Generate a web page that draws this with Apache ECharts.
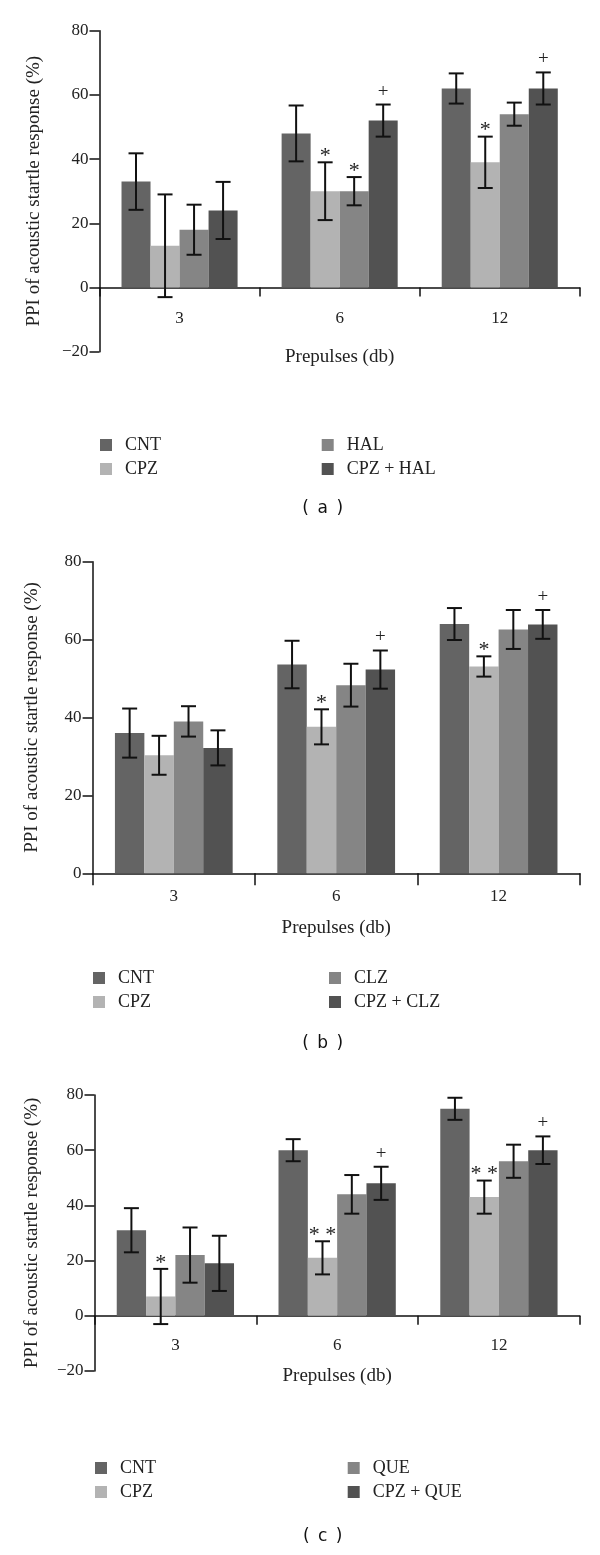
<!DOCTYPE html>
<html>
<head>
<meta charset="utf-8">
<script src="https://cdn.jsdelivr.net/npm/echarts@6/dist/echarts.min.js"></script>
<style>
  html, body { margin: 0; padding: 0; background: #fff; }
  .panel { position: absolute; left: 0; width: 600px; }
</style>
</head>
<body>
<div id="pa" class="panel" style="top:0px;height:530px"></div>
<div id="pb" class="panel" style="top:530px;height:535px"></div>
<div id="pc" class="panel" style="top:1065px;height:490px"></div>
<script>
// ---------- data ----------
const categories = ['3', '6', '12'];

// panel (a)
const a_names = ['CNT', 'CPZ', 'HAL', 'CPZ + HAL'];
const a_CNT = [33, 48, 62];       const a_CNT_err = [8.8, 8.7, 4.7];
const a_CPZ = [13, 30, 39];       const a_CPZ_err = [16, 9, 8];
const a_HAL = [18, 30, 54];       const a_HAL_err = [7.8, 4.4, 3.6];
const a_MIX = [24, 52, 62];       const a_MIX_err = [8.9, 5, 5];
const a_marks = [['', '', ''], ['', '*', '*'], ['', '*', ''], ['', '+', '+']];

// panel (b)
const b_names = ['CNT', 'CPZ', 'CLZ', 'CPZ + CLZ'];
const b_CNT = [36, 53.6, 64];     const b_CNT_err = [6.3, 6.1, 4.1];
const b_CPZ = [30.3, 37.6, 53.1]; const b_CPZ_err = [5, 4.5, 2.6];
const b_CLZ = [39, 48.3, 62.6];   const b_CLZ_err = [3.9, 5.5, 5];
const b_MIX = [32.2, 52.3, 63.9]; const b_MIX_err = [4.5, 4.9, 3.7];
const b_marks = [['', '', ''], ['', '*', '*'], ['', '', ''], ['', '+', '+']];

// panel (c)
const c_names = ['CNT', 'CPZ', 'QUE', 'CPZ + QUE'];
const c_CNT = [31, 60, 75];       const c_CNT_err = [8, 4, 4];
const c_CPZ = [7, 21, 43];        const c_CPZ_err = [10, 6, 6];
const c_QUE = [22, 44, 56];       const c_QUE_err = [10, 7, 6];
const c_MIX = [19, 48, 60];       const c_MIX_err = [10, 6, 5];
const c_marks = [['', '', ''], ['*', '**', '**'], ['', '', ''], ['', '+', '+']];

// ---------- styling ----------
const COLORS = ['#646464', '#b3b3b3', '#858585', '#525252'];
const SERIF = '"Liberation Serif", "DejaVu Serif", serif';
const GAP = 0.275;

function build(cfg) {
  const series = [];
  cfg.values.forEach((vals, i) => {
    series.push({
      type: 'bar', name: cfg.names[i], data: vals,
      barGap: '0%', barCategoryGap: (GAP * 100) + '%',
      itemStyle: { color: COLORS[i] },
      emphasis: { disabled: true }, z: 2
    });
  });
  cfg.values.forEach((vals, i) => {
    const errs = cfg.errs[i];
    const marks = cfg.marks[i];
    series.push({
      type: 'custom', name: cfg.names[i] + ' err', clip: false, z: 5,
      silent: true,
      data: vals.map((v, k) => [k, v, errs[k]]),
      renderItem: function (params, api) {
        const cat = api.value(0), v = api.value(1), e = api.value(2);
        const band = api.size([1, 0])[0];
        const bw = band * (1 - GAP) / 4;
        const off = (i - 1.5) * bw;
        const t = api.coord([cat, v + e]);
        const b = api.coord([cat, v - e]);
        const x = t[0] + off;
        const cap = 7.5;
        const st = { stroke: '#111', lineWidth: 2 };
        const children = [
          { type: 'line', shape: { x1: x, y1: t[1], x2: x, y2: b[1] }, style: st },
          { type: 'line', shape: { x1: x - cap, y1: t[1], x2: x + cap, y2: t[1] }, style: st },
          { type: 'line', shape: { x1: x - cap, y1: b[1], x2: x + cap, y2: b[1] }, style: st }
        ];
        const m = marks[params.dataIndex];
        if (m) {
          const isStar = m.indexOf('*') >= 0;
          children.push({
            type: 'text',
            style: {
              text: isStar ? m.split('').join(' ') : m,
              x: x, y: t[1] - (isStar ? 6 : 13),
              align: 'center', verticalAlign: 'middle',
              font: (isStar ? '22px ' : '19px ') + SERIF, fill: '#222'
            }
          });
        }
        return { type: 'group', children: children };
      }
    });
  });

  const legendStyle = {
    orient: 'vertical', icon: 'rect', itemWidth: 12, itemHeight: 12, itemGap: 6,
    padding: 0, selectedMode: false,
    textStyle: { fontFamily: SERIF, fontSize: 18, color: '#222', padding: [0, 0, 0, 8] }
  };

  return {
    animation: false,
    grid: { left: cfg.left, right: 20.2, top: cfg.top, height: cfg.height },
    xAxis: {
      type: 'category', data: categories,
      axisLine: { onZero: true, lineStyle: { color: '#111', width: 1.5 } },
      axisTick: { show: true, length: cfg.tickLen, lineStyle: { color: '#111', width: 1.5 } },
      axisLabel: { margin: cfg.labelMargin, fontFamily: SERIF, fontSize: 17, color: '#222' },
      name: 'Prepulses (db)', nameLocation: 'middle', nameGap: cfg.nameGap,
      nameTextStyle: { fontFamily: SERIF, fontSize: 19, color: '#222' },
      splitLine: { show: false }
    },
    yAxis: {
      type: 'value', min: cfg.ymin, max: 80, interval: 20,
      axisLine: { show: true, lineStyle: { color: '#111', width: 1.5 } },
      axisTick: { show: true, length: 10, lineStyle: { color: '#111', width: 1.5 } },
      axisLabel: {
        margin: 11, fontFamily: SERIF, fontSize: 17, color: '#222',
        formatter: v => String(v).replace('-', '\u2212')
      },
      splitLine: { show: false },
      name: 'PPI of acoustic startle response (%)', nameLocation: 'middle',
      nameGap: cfg.yNameGap,
      nameTextStyle: { fontFamily: SERIF, fontSize: 19, color: '#222' }
    },
    legend: [
      Object.assign({ left: cfg.legL1, top: cfg.legTop, data: [cfg.names[0], cfg.names[1]] }, legendStyle),
      Object.assign({ left: cfg.legL2, top: cfg.legTop, data: [cfg.names[2], cfg.names[3]] }, legendStyle)
    ],
    graphic: [{
      type: 'text', x: 322.7, y: cfg.labelY,
      style: { text: cfg.label, align: 'center', verticalAlign: 'middle',
               font: '17px "DejaVu Sans", sans-serif', fill: '#111' }
    }],
    series: series
  };
}

const cfgA = {
  names: a_names, values: [a_CNT, a_CPZ, a_HAL, a_MIX],
  errs: [a_CNT_err, a_CPZ_err, a_HAL_err, a_MIX_err], marks: a_marks,
  left: 99.5, top: 30.7, height: 321, ymin: -20,
  tickLen: 9, labelMargin: -42, nameGap: -4.5, yNameGap: 56,
  legL1: 100, legL2: 321.7, legTop: 436, labelY: 509, label: '(\u2002a\u2002)'
};
const cfgB = {
  names: b_names, values: [b_CNT, b_CPZ, b_CLZ, b_MIX],
  errs: [b_CNT_err, b_CPZ_err, b_CLZ_err, b_MIX_err], marks: b_marks,
  left: 92.6, top: 31.7, height: 311.6, ymin: 0,
  tickLen: 12, labelMargin: 14.5, nameGap: 45.5, yNameGap: 51,
  legL1: 93, legL2: 329, legTop: 439, labelY: 514, label: '(\u2002b\u2002)'
};
const cfgC = {
  names: c_names, values: [c_CNT, c_CPZ, c_QUE, c_MIX],
  errs: [c_CNT_err, c_CPZ_err, c_QUE_err, c_MIX_err], marks: c_marks,
  left: 94.5, top: 30, height: 276, ymin: -20,
  tickLen: 9, labelMargin: -34, nameGap: -4.5, yNameGap: 53,
  legL1: 95, legL2: 347.7, legTop: 394, labelY: 472, label: '(\u2002c\u2002)'
};

echarts.init(document.getElementById('pa')).setOption(build(cfgA));
echarts.init(document.getElementById('pb')).setOption(build(cfgB));
echarts.init(document.getElementById('pc')).setOption(build(cfgC));
</script>
</body>
</html>
